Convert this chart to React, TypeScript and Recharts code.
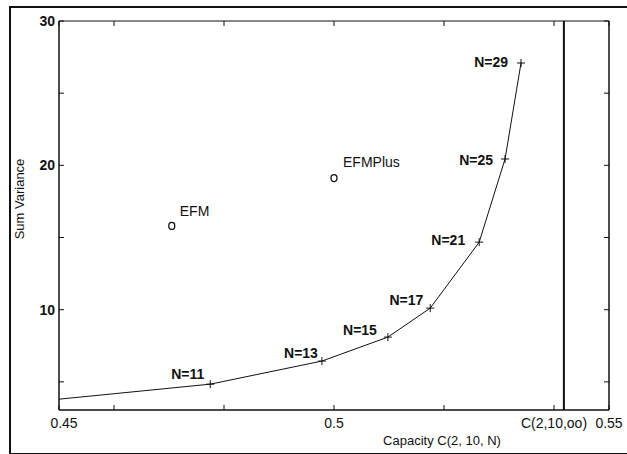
import React from "react";
import { ComposedChart, XAxis, YAxis, Scatter, ReferenceLine, Label } from "recharts";

// Trade-off curve: capacity C(2,10,N) vs sum variance
const curveX = [0.45, 0.4775, 0.4978, 0.5098, 0.5175, 0.5264, 0.5311, 0.534];
const curveY = [3.8, 4.84, 6.44, 8.1, 10.11, 14.68, 20.44, 27.09];
const curveLabels = ["", "N=11", "N=13", "N=15", "N=17", "N=21", "N=25", "N=29"];

// Existing codes
const codeNames = ["EFM", "EFMPlus"];
const codeX = [0.4705, 0.5];
const codeY = [15.8, 19.12];

// Capacity limit C(2,10,oo)
const capacityLimit = 0.5418;

const xTicks = [0.45, 0.46, 0.48, 0.5, 0.52, 0.54, 0.55];
const xTickLabels = ["0.45", "", "", "0.5", "", "C(2,10,oo)", "0.55"];
const yTicks = [5, 10, 15, 20, 25, 30];
const yTickLabels = ["", "10", "", "20", "", "30"];

const curveData = curveX.map((x, i) => ({ x, y: curveY[i], label: curveLabels[i] }));
const codeData = codeX.map((x, i) => ({ x, y: codeY[i], label: codeNames[i] }));

const INK = "#111";
const FONT = "'Liberation Sans', Arial, sans-serif";

const labelOffsets: Record<string, [number, number]> = {
  "N=11": [-6, -10],
  "N=13": [-4, -8],
  "N=15": [-11, -7],
  "N=17": [-7, -8],
  "N=21": [-14, -2],
  "N=25": [-12, 1],
  "N=29": [-13, -1],
};

const codeOffsets: Record<string, [number, number]> = {
  EFM: [8, -15],
  EFMPlus: [9, -16],
};

const BottomTick = (props: any) => {
  const { x, y, payload } = props;
  const idx = xTicks.indexOf(payload.value);
  const text = idx >= 0 ? xTickLabels[idx] : "";
  const dx = payload.value === 0.45 ? 5 : 0;
  return (
    <g>
      <line x1={x} y1={y} x2={x} y2={y - 5} stroke={INK} strokeWidth={1} />
      {text && (
        <text x={x + dx} y={y + 18} textAnchor="middle" fontSize={14} fontFamily={FONT} fill={INK}>
          {text}
        </text>
      )}
    </g>
  );
};

const TopTick = (props: any) => {
  const { x, y } = props;
  return <line x1={x} y1={y} x2={x} y2={y + 5} stroke={INK} strokeWidth={1} />;
};

const LeftTick = (props: any) => {
  const { x, y, payload } = props;
  const idx = yTicks.indexOf(payload.value);
  const text = idx >= 0 ? yTickLabels[idx] : "";
  return (
    <g>
      <line x1={x} y1={y} x2={x + 5} y2={y} stroke={INK} strokeWidth={1} />
      {text && (
        <text x={x - 4} y={y + 5} textAnchor="end" fontSize={14} fontWeight="bold" fontFamily={FONT} fill={INK}>
          {text}
        </text>
      )}
    </g>
  );
};

const RightTick = (props: any) => {
  const { x, y } = props;
  return <line x1={x} y1={y} x2={x - 5} y2={y} stroke={INK} strokeWidth={1} />;
};

const CurvePoint = (props: any) => {
  const { cx, cy, payload } = props;
  if (!payload || !payload.label) return <g />;
  const off = labelOffsets[payload.label] || [-10, -5];
  return (
    <g>
      <path d={`M${cx - 4},${cy}h8M${cx},${cy - 4}v8`} stroke={INK} strokeWidth={1} />
      <text
        x={cx + off[0]}
        y={cy + off[1] + 5}
        textAnchor="end"
        fontSize={14}
        fontWeight="bold"
        fontFamily={FONT}
        fill={INK}
      >
        {payload.label}
      </text>
    </g>
  );
};

const CodePoint = (props: any) => {
  const { cx, cy, payload } = props;
  const off = codeOffsets[payload.label] || [8, -15];
  return (
    <g>
      <ellipse cx={cx} cy={cy} rx={3} ry={3.5} fill="none" stroke={INK} strokeWidth={1.3} />
      <text x={cx + off[0]} y={cy + off[1] + 5} fontSize={14} fontFamily={FONT} fill={INK}>
        {payload.label}
      </text>
    </g>
  );
};

export default function App() {
  return (
    <div style={{ position: "relative", width: 627, height: 454, overflow: "hidden", background: "#fff" }}>
      <style>{`body{margin:0;}`}</style>
      <div
        style={{
          position: "absolute",
          left: 9,
          top: 6,
          width: 640,
          height: 445,
          borderLeft: `2px solid ${INK}`,
          borderTop: `2px solid ${INK}`,
          borderBottom: `2px solid ${INK}`,
        }}
      />
      <div style={{ position: "absolute", left: 0, top: 0 }}>
        <ComposedChart width={627} height={454} margin={{ top: 20, right: 17, bottom: 0, left: 0 }}>
          <XAxis
            xAxisId="b"
            type="number"
            dataKey="x"
            domain={[0.45, 0.55]}
            ticks={xTicks}
            interval={0}
            allowDataOverflow
            height={44}
            tickSize={0}
            tickMargin={0}
            tickLine={false}
            tick={<BottomTick />}
            axisLine={{ stroke: INK, strokeWidth: 1.5 }}
          >
            <Label
              content={() => (
                <text x={442} y={445} textAnchor="middle" fontSize={13} fontFamily={FONT} fill={INK}>
                  Capacity C(2, 10, N)
                </text>
              )}
            />
          </XAxis>
          <XAxis
            xAxisId="t"
            orientation="top"
            type="number"
            dataKey="x"
            domain={[0.45, 0.55]}
            ticks={xTicks}
            interval={0}
            allowDataOverflow
            height={1}
            tickSize={0}
            tickMargin={0}
            tickLine={false}
            tick={<TopTick />}
            axisLine={{ stroke: INK, strokeWidth: 1 }}
          />
          <YAxis
            yAxisId="l"
            type="number"
            dataKey="y"
            domain={[3.05, 30]}
            ticks={yTicks}
            interval={0}
            allowDataOverflow
            width={59}
            tickSize={0}
            tickMargin={0}
            tickLine={false}
            tick={<LeftTick />}
            axisLine={{ stroke: INK, strokeWidth: 1.5 }}
          >
            <Label
              content={() => (
                <text
                  x={24}
                  y={199}
                  textAnchor="middle"
                  fontSize={13}
                  fontFamily={FONT}
                  fill={INK}
                  transform="rotate(-90 24 199)"
                >
                  Sum Variance
                </text>
              )}
            />
          </YAxis>
          <YAxis
            yAxisId="r"
            orientation="right"
            type="number"
            dataKey="y"
            domain={[3.05, 30]}
            ticks={yTicks}
            interval={0}
            allowDataOverflow
            width={1}
            tickSize={0}
            tickMargin={0}
            tickLine={false}
            tick={<RightTick />}
            axisLine={{ stroke: INK, strokeWidth: 1.5 }}
          />
          <ReferenceLine
            xAxisId="b"
            yAxisId="l"
            x={capacityLimit}
            stroke={INK}
            strokeWidth={2}
            ifOverflow="hidden"
          />
          <Scatter
            xAxisId="b"
            yAxisId="l"
            data={curveData}
            line={{ stroke: INK, strokeWidth: 1 }}
            lineType="joint"
            shape={<CurvePoint />}
            isAnimationActive={false}
          />
          <Scatter
            xAxisId="b"
            yAxisId="l"
            data={codeData}
            shape={<CodePoint />}
            isAnimationActive={false}
          />
        </ComposedChart>
      </div>
    </div>
  );
}
